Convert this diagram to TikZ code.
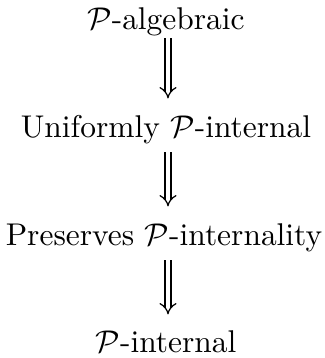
\documentclass[tikz,border=0pt]{standalone}
\usetikzlibrary{arrows.meta}
\begin{document}
\begin{tikzpicture}[x=0.318pt,y=-0.318pt,
  lbl/.style={anchor=base,inner sep=0pt},
  impl/.style={double,double distance=1.5pt,line width=0.4pt,-{Implies},shorten >=0.5pt}]
\useasboundingbox (0,0) rectangle (325,358);
\node[lbl] (a) at (166,29) {$\mathcal{P}$-algebraic};
\node[lbl] (b) at (166,137) {Uniformly $\mathcal{P}$-internal};
\node[lbl] (c) at (164,245) {Preserves $\mathcal{P}$-internality};
\node[lbl] (d) at (166,352) {$\mathcal{P}$-internal};
\coordinate (a1) at (168,38); \coordinate (a2) at (168,100);
\coordinate (b1) at (168,152); \coordinate (b2) at (168,208);
\coordinate (c1) at (168,260); \coordinate (c2) at (168,316);
\draw[impl] (a1) -- (a2);
\draw[impl] (b1) -- (b2);
\draw[impl] (c1) -- (c2);
\end{tikzpicture}
\end{document}
